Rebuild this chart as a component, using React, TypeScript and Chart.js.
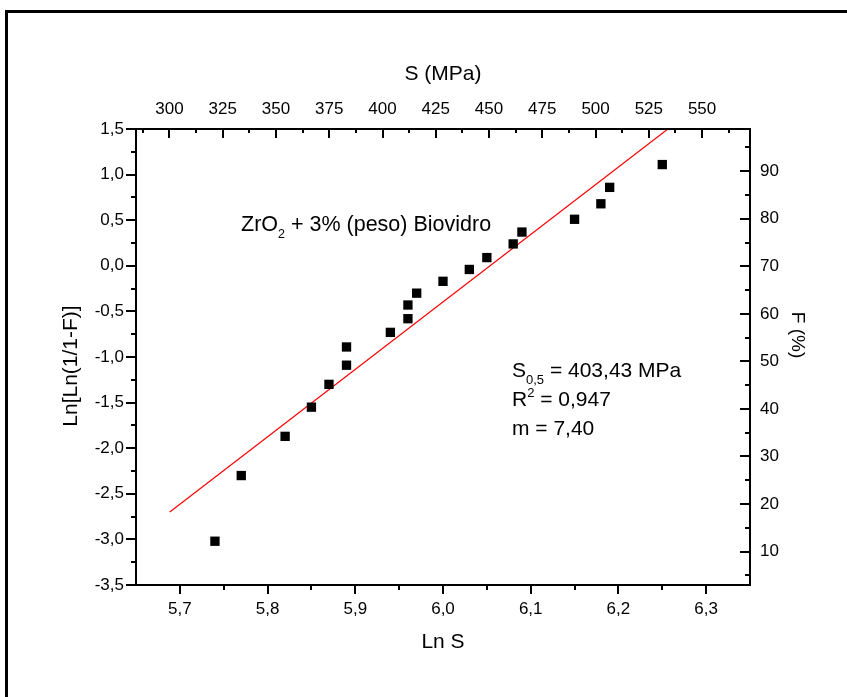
import React, { useEffect, useRef } from "react";
import { Chart, registerables } from "chart.js";

Chart.register(...registerables);

// ---- data ----
const lnS = [5.740, 5.770, 5.820, 5.850, 5.870, 5.890, 5.890, 5.940, 5.960, 5.960, 5.970, 6.000, 6.030, 6.050, 6.080, 6.090, 6.150, 6.180, 6.190, 6.250];
const lnLnF = [-3.02, -2.30, -1.87, -1.55, -1.30, -1.09, -0.89, -0.73, -0.58, -0.43, -0.30, -0.17, -0.04, 0.09, 0.24, 0.37, 0.51, 0.68, 0.86, 1.11];

// fitted Weibull line (end points)
const fitLnS = [5.6885, 6.2564];
const fitLnLnF = [-2.70, 1.50];

// axis ticks
const lnSTicks = [5.7, 5.8, 5.9, 6.0, 6.1, 6.2, 6.3];
const lnSMinor = [5.75, 5.85, 5.95, 6.05, 6.15, 6.25];
const sTicks = [300, 325, 350, 375, 400, 425, 450, 475, 500, 525, 550];
const sMinor = [287.5, 312.5, 337.5, 362.5, 387.5, 412.5, 437.5, 462.5, 487.5, 512.5, 537.5, 562.5];
const yTicks = [-3.5, -3.0, -2.5, -2.0, -1.5, -1.0, -0.5, 0.0, 0.5, 1.0, 1.5];
const yMinor = [-3.25, -2.75, -2.25, -1.75, -1.25, -0.75, -0.25, 0.25, 0.75, 1.25];
const fTicks = [10, 20, 30, 40, 50, 60, 70, 80, 90];
const fMinor = [5, 15, 25, 35, 45, 55, 65, 75, 85, 95];

const FONT = '"Liberation Sans", Arial, Helvetica, sans-serif';

type Part = { t: string; size: number; dy?: number };

function drawRich(ctx: CanvasRenderingContext2D, x: number, y: number, parts: Part[]) {
  let cx = x;
  for (const p of parts) {
    ctx.font = `${p.size}px ${FONT}`;
    ctx.fillText(p.t, cx, y + (p.dy || 0));
    cx += ctx.measureText(p.t).width;
  }
}

const comma = (v: number) => v.toFixed(1).replace(".", ",");

const decor = {
  id: "decor",
  afterDraw(chart: any) {
    const { ctx, chartArea: a, scales } = chart;
    ctx.save();
    ctx.strokeStyle = "#000";
    ctx.fillStyle = "#000";

    // outer frame
    ctx.lineWidth = 3;
    ctx.beginPath();
    ctx.moveTo(6.5, 900);
    ctx.lineTo(6.5, 11.5);
    ctx.lineTo(900, 11.5);
    ctx.stroke();

    // axis box
    ctx.lineWidth = 2;
    ctx.strokeRect(a.left, a.top, a.right - a.left, a.bottom - a.top);

    const hTicks = (scale: any, vals: number[], yBase: number, len: number) => {
      for (const v of vals) {
        const px = Math.round(scale.getPixelForValue(v));
        ctx.beginPath();
        ctx.moveTo(px, yBase);
        ctx.lineTo(px, yBase + len);
        ctx.stroke();
      }
    };
    const vTicks = (scale: any, vals: number[], xBase: number, len: number) => {
      for (const v of vals) {
        const py = Math.round(scale.getPixelForValue(v));
        ctx.beginPath();
        ctx.moveTo(xBase, py);
        ctx.lineTo(xBase + len, py);
        ctx.stroke();
      }
    };
    ctx.lineWidth = 2;
    hTicks(scales.x, lnSTicks, a.bottom, 9);
    hTicks(scales.x, lnSMinor, a.bottom, 5);
    hTicks(scales.x2, sTicks, a.top, 9);
    hTicks(scales.x2, sMinor, a.top, 4);
    vTicks(scales.y, yTicks, a.left, -10);
    vTicks(scales.y, yMinor, a.left, -5);
    vTicks(scales.y2, fTicks, a.right, -10);
    vTicks(scales.y2, fMinor, a.right, -5);

    // axis titles
    ctx.textBaseline = "middle";
    ctx.textAlign = "center";
    ctx.font = `21px ${FONT}`;
    ctx.fillText("S (MPa)", (a.left + a.right) / 2, 74);
    ctx.fillText("Ln S", (a.left + a.right) / 2, 642);

    ctx.save();
    ctx.translate(71, 366);
    ctx.rotate(-Math.PI / 2);
    ctx.fillText("Ln[Ln(1/1-F)]", 0, 0);
    ctx.restore();

    ctx.save();
    ctx.translate(797, 335);
    ctx.rotate(Math.PI / 2);
    ctx.font = `19px ${FONT}`;
    ctx.fillText("F (%)", 0, 0);
    ctx.restore();

    // annotations
    ctx.textAlign = "left";
    ctx.textBaseline = "alphabetic";
    drawRich(ctx, 241, 231, [
      { t: "ZrO", size: 21.5 },
      { t: "2", size: 12.5, dy: 7 },
      { t: " + 3% (peso) Biovidro", size: 21.5 },
    ]);
    drawRich(ctx, 512, 377, [
      { t: "S", size: 21 },
      { t: "0,5", size: 13, dy: 7 },
      { t: " = 403,43 MPa", size: 21 },
    ]);
    drawRich(ctx, 512, 406, [
      { t: "R", size: 21 },
      { t: "2", size: 13, dy: -9 },
      { t: " = 0,947", size: 21 },
    ]);
    drawRich(ctx, 512, 435, [{ t: "m = 7,40", size: 21 }]);

    ctx.restore();
  },
};

export default function App() {
  const ref = useRef<HTMLCanvasElement>(null);

  useEffect(() => {
    const tickFont = { family: FONT, size: 17 };
    const setTicks = (vals: number[]) => (scale: any) => {
      scale.ticks = vals.map((v) => ({ value: v }));
    };
    const chart = new Chart(ref.current as HTMLCanvasElement, {
      type: "scatter",
      data: {
        datasets: [
          {
            label: "data",
            data: lnS.map((x, i) => ({ x, y: lnLnF[i] })),
            pointStyle: "rect",
            pointRadius: 6.6,
            pointHoverRadius: 6.6,
            backgroundColor: "#000",
            borderWidth: 0,
            xAxisID: "x",
            yAxisID: "y",
          },
          {
            label: "fit",
            data: fitLnS.map((x, i) => ({ x, y: fitLnLnF[i] })),
            showLine: true,
            borderColor: "#ff0000",
            borderWidth: 1.2,
            pointRadius: 0,
            xAxisID: "x",
            yAxisID: "y",
          },
        ],
      },
      options: {
        responsive: false,
        animation: false,
        devicePixelRatio: 1,
        layout: { padding: 0 },
        plugins: {
          legend: { display: false },
          tooltip: { enabled: false },
        },
        scales: {
          x: {
            type: "linear",
            position: "bottom",
            min: 5.65,
            max: 6.35,
            afterBuildTicks: setTicks(lnSTicks),
            afterFit: (s: any) => { s.height = 112; },
            grid: { display: false, drawTicks: false },
            border: { display: false },
            ticks: { font: tickFont, color: "#000", padding: 14, maxRotation: 0, autoSkip: false, callback: (v: any) => comma(Number(v)) },
          },
          x2: {
            type: "linear",
            position: "top",
            min: 284.29,
            max: 572.49,
            afterBuildTicks: setTicks(sTicks),
            afterFit: (s: any) => { s.height = 129; },
            grid: { display: false, drawTicks: false },
            border: { display: false },
            ticks: { font: tickFont, color: "#000", padding: 9, maxRotation: 0, autoSkip: false, callback: (v: any) => String(v) },
          },
          y: {
            type: "linear",
            position: "left",
            min: -3.5,
            max: 1.5,
            afterBuildTicks: setTicks(yTicks),
            afterFit: (s: any) => { s.width = 136; },
            grid: { display: false, drawTicks: false },
            border: { display: false },
            ticks: { font: tickFont, color: "#000", padding: 12, autoSkip: false, callback: (v: any) => comma(Number(v)) },
          },
          y2: {
            type: "linear",
            position: "right",
            min: 2.97,
            max: 98.87,
            afterBuildTicks: setTicks(fTicks),
            afterFit: (s: any) => { s.width = 97; },
            grid: { display: false, drawTicks: false },
            border: { display: false },
            ticks: { font: tickFont, color: "#000", padding: 10, autoSkip: false, callback: (v: any) => String(v) },
          },
        },
      },
      plugins: [decor],
    } as any);
    return () => chart.destroy();
  }, []);

  return (
    <div style={{ position: "absolute", left: 0, top: 0, width: 847, height: 697, background: "#fff" }}>
      <canvas ref={ref} width={847} height={697} style={{ display: "block", width: 847, height: 697 }} />
    </div>
  );
}
